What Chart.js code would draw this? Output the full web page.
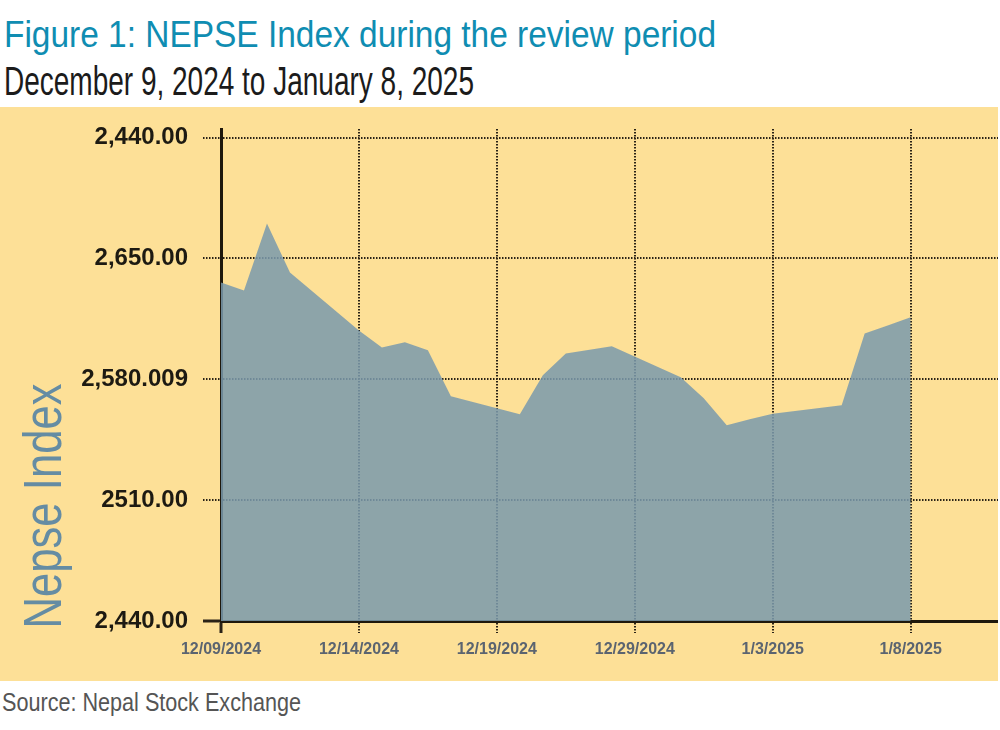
<!DOCTYPE html>
<html>
<head>
<meta charset="utf-8">
<script src="https://cdn.jsdelivr.net/npm/chart.js@4.4.1/dist/chart.umd.min.js"></script>
<style>
  body { margin:0; background:#fff; width:1000px; height:730px; position:relative; overflow:hidden;
         font-family:"Liberation Sans", Arial, sans-serif; }
  .txt { position:absolute; white-space:nowrap; line-height:1; transform-origin:0 0; }
  #title { left:4px; top:16px; font-size:37px; color:#0f8db2; }
  #subtitle { left:4px; top:61px; font-size:40px; color:#1b1b1b; }
  #panel { position:absolute; left:0; top:107px; width:998px; height:574px; background:#fde097; }
  #source { left:2px; top:689px; font-size:26px; color:#555; }
</style>
</head>
<body>
<div id="title" class="txt">Figure 1: NEPSE Index during the review period</div>
<div id="subtitle" class="txt">December 9, 2024 to January 8, 2025</div>
<div id="panel"><canvas id="nepseChart" width="998" height="574"></canvas></div>
<div id="source" class="txt">Source: Nepal Stock Exchange</div>
<script>
// days counted from 12/09/2024, trading days only
const days = [0, 1, 2, 3, 6, 7, 8, 9, 10, 13, 14, 15, 17, 20, 21, 22, 23, 24, 27, 28, 29, 30];
const nepse = [2636.1, 2631.5, 2670.2, 2641.9, 2608.3, 2598.5, 2601.4, 2596.8, 2570.2, 2559.8, 2582.3,
               2595.0, 2599.1, 2581.2, 2569.0, 2553.4, 2556.9, 2560.1, 2565.0, 2606.6, 2611.2, 2615.9];

const xTicks = [0, 6, 12, 18, 24, 30];
const xTickLabels = ['12/09/2024', '12/14/2024', '12/19/2024', '12/29/2024', '1/3/2025', '1/8/2025'];
const yTicks = [2440, 2510, 2580, 2650, 2720];
const yTickLabels = ['2,440.00', '2510.00', '2,580.009', '2,650.00', '2,440.00'];

const axisColor = '#1e180c';
const dotColor = '#2a2317';

// no condensed fonts installed, so squeeze the headings to the original widths
function squeeze(id, target) {
  const el = document.getElementById(id);
  const w = el.getBoundingClientRect().width;
  el.style.transform = 'scaleX(' + (target / w) + ')';
}
squeeze('title', 712);
squeeze('subtitle', 470);
squeeze('source', 299);

// rotated axis title, sitting low like the original
const yTitlePlugin = {
  id: 'yTitle',
  afterDraw(chart) {
    const ctx = chart.ctx;
    const text = 'Nepse Index';
    ctx.save();
    ctx.font = '53px "Liberation Sans", Arial, sans-serif';
    const w = ctx.measureText(text).width;
    ctx.translate(61, 399);
    ctx.rotate(-Math.PI / 2);
    ctx.scale(245 / w, 1);
    ctx.fillStyle = '#658ca3';
    ctx.textAlign = 'center';
    ctx.textBaseline = 'alphabetic';
    ctx.fillText(text, 0, 0);
    ctx.restore();
  }
};

new Chart(document.getElementById('nepseChart').getContext('2d'), {
  type: 'line',
  data: {
    datasets: [{
      label: 'NEPSE',
      data: days.map((d, i) => ({ x: d, y: nepse[i] })),
      fill: 'start',
      backgroundColor: 'rgba(122,154,172,0.86)',
      borderWidth: 0,
      pointRadius: 0,
      tension: 0
    }]
  },
  options: {
    responsive: false,
    animation: false,
    devicePixelRatio: 1,
    layout: { padding: { top: 22, left: 0, right: 0, bottom: 0 } },
    plugins: { legend: { display: false }, tooltip: { enabled: false } },
    scales: {
      x: {
        type: 'linear',
        min: 0,
        max: 33.8,
        afterBuildTicks: s => { s.ticks = xTicks.map(v => ({ value: v })); },
        afterFit: s => { s.height = 60; s.paddingLeft = 0; s.paddingRight = 0; },
        ticks: {
          callback: (v, i) => xTickLabels[i],
          font: { family: 'Liberation Sans', size: 16, weight: 'bold' },
          color: '#5b6470',
          padding: 7,
          maxRotation: 0,
          autoSkip: false
        },
        grid: {
          color: dotColor,
          lineWidth: 2,
          tickLength: 12,
          tickColor: dotColor,
          tickWidth: c => c.index === 0 ? 3 : 2,
          tickBorderDash: c => c.index === 0 ? [] : [1.5, 1.5]
        },
        border: { display: true, color: axisColor, width: 3, dash: [1.5, 1.5] }
      },
      y: {
        min: 2440,
        max: 2725,
        afterBuildTicks: s => { s.ticks = yTicks.map(v => ({ value: v })); },
        afterFit: s => { s.width = 221; s.paddingTop = 0; s.paddingBottom = 0; },
        ticks: {
          callback: (v, i) => yTickLabels[i],
          font: { family: 'Liberation Sans', size: 24, weight: 'bold' },
          color: '#1d1a12',
          padding: 15
        },
        grid: {
          color: dotColor,
          lineWidth: 2,
          tickLength: 18,
          tickColor: dotColor,
          tickWidth: c => c.index === 0 ? 3 : 2,
          tickBorderDash: c => c.index === 0 ? [] : [1.5, 1.5]
        },
        border: { display: true, color: axisColor, width: 3, dash: [1.5, 1.5] }
      }
    }
  },
  plugins: [yTitlePlugin]
});
</script>
</body>
</html>
